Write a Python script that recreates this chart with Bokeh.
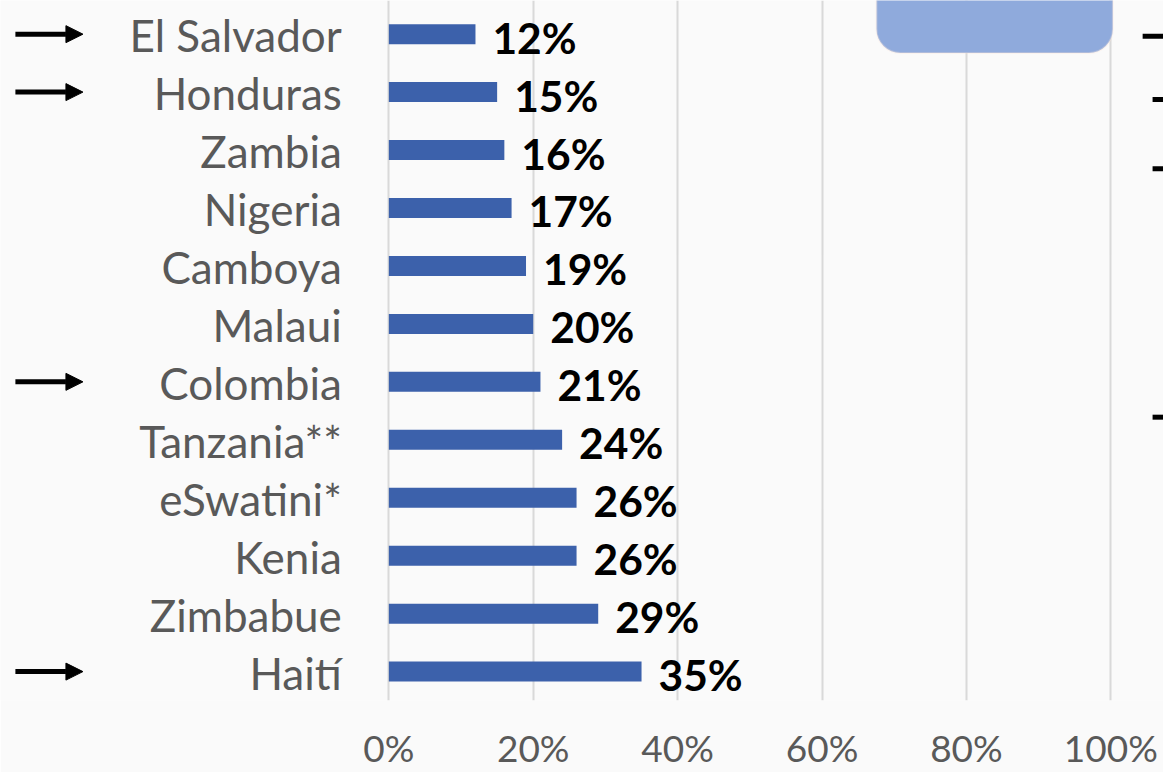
from bokeh.plotting import figure
from bokeh.models import Range1d, FixedTicker, ColumnDataSource, Arrow, NormalHead, BoxAnnotation
from bokeh.core.properties import value
from bokeh.embed import file_html
from bokeh.resources import INLINE

# ---- data (top to bottom as shown) ----
countries = ["El Salvador", "Honduras", "Zambia", "Nigeria", "Camboya", "Malaui",
             "Colombia", "Tanzania**", "eSwatini*", "Kenia", "Zimbabue", "Haití"]
shares = [0.12, 0.15, 0.16, 0.17, 0.19, 0.20, 0.21, 0.24, 0.26, 0.26, 0.29, 0.35]
marked = ["El Salvador", "Honduras", "Colombia", "Haití"]
tick_values = [0.0, 0.2, 0.4, 0.6, 0.8, 1.0]
tick_labels = ["0%", "20%", "40%", "60%", "80%", "100%"]

n = len(countries)
ypos = [n - 1 - i for i in range(n)]
value_text = [f"{round(v * 100)}%" for v in shares]

W, H = 1163, 772
SX, SY = W / 1171.0, H / 780.0
FRAME_LEFT = 391 * SX            # pixel of 0%
PX_PER_UNIT = (1118 - 391) * SX  # pixels from 0% to 100%
ROW = 58.55 * SY
FIRST = 34 * SY
FRAME_H = 700


def px_x(px):
    """reference-pixel x -> data x"""
    return (px * SX - FRAME_LEFT) / PX_PER_UNIT


def px_y(py):
    """reference-pixel y -> data y"""
    return (n - 1) - (py * SY - FIRST) / ROW


x0 = px_x(0)
x1 = px_x(1171)
y_top = (n - 1) + FIRST / ROW
y_bot = y_top - FRAME_H / ROW

p = figure(width=W, height=H, output_backend="svg", toolbar_location=None,
           x_range=Range1d(x0, x1), y_range=Range1d(y_bot, y_top),
           y_axis_location=None)
p.min_border_left = 0
p.min_border_right = 0
p.min_border_top = 0
p.min_border_bottom = H - FRAME_H
p.outline_line_color = None
p.background_fill_color = "#FAFAFA"
p.border_fill_color = "#FAFAFA"

p.ygrid.visible = False
p.xgrid.ticker = FixedTicker(ticks=tick_values)
p.xgrid.grid_line_color = "#D9D9D9"
p.xgrid.grid_line_width = 2

ax = p.xaxis[0]
ax.ticker = FixedTicker(ticks=tick_values)
ax.major_label_overrides = {v: t for v, t in zip(tick_values, tick_labels)}
ax.axis_line_color = None
ax.major_tick_line_color = None
ax.minor_tick_line_color = None
ax.major_label_text_font = "Lato"
ax.major_label_text_font_size = "37px"
ax.major_label_text_color = "#595959"
ax.major_label_standoff = 18

src = ColumnDataSource(dict(y=ypos, v=shares, name=countries, lab=value_text,
                            zero=[0.0] * n))

p.hbar(y="y", left=0, right="v", height=20 / ROW, source=src,
       fill_color="#3C61AB", line_color=None)

p.text(x="v", y="y", text="lab", source=src, x_offset=17, y_offset=3,
       text_font=value("Lato"), text_font_style="bold", text_font_size="42.5px",
       text_color="#000000", text_align="left", text_baseline="middle")

p.text(x="zero", y="y", text="name", source=src, x_offset=-47, y_offset=1,
       text_font=value("Lato"), text_font_size="44px",
       text_color="#595959", text_align="right", text_baseline="middle")

# arrows pointing at highlighted countries
ay = [ypos[countries.index(c)] for c in marked]
arr_src = ColumnDataSource(dict(xs=[px_x(15)] * len(ay), xe=[px_x(83)] * len(ay), y=ay))
p.add_layout(Arrow(x_start="xs", x_end="xe", y_start="y", y_end="y", source=arr_src,
                   line_color="black", line_width=5,
                   end=NormalHead(size=17, fill_color="black", line_color="black",
                                  line_width=1)))

# decorative pieces of the surrounding slide
p.add_layout(BoxAnnotation(left=px_x(882), right=px_x(1120), bottom=px_y(53), top=px_y(-80),
                           fill_color="#8FAADC", fill_alpha=1.0,
                           line_color="#FBE5D6", line_width=2, border_radius=24))
p.segment(x0=[px_x(1150), px_x(1160), px_x(1160), px_x(1160)],
          x1=[px_x(1180)] * 4,
          y0=[px_y(36), px_y(100), px_y(170), px_y(421)],
          y1=[px_y(36), px_y(100), px_y(170), px_y(421)],
          line_color="black", line_width=5)

open("out.html", "w").write(file_html(p, INLINE))
